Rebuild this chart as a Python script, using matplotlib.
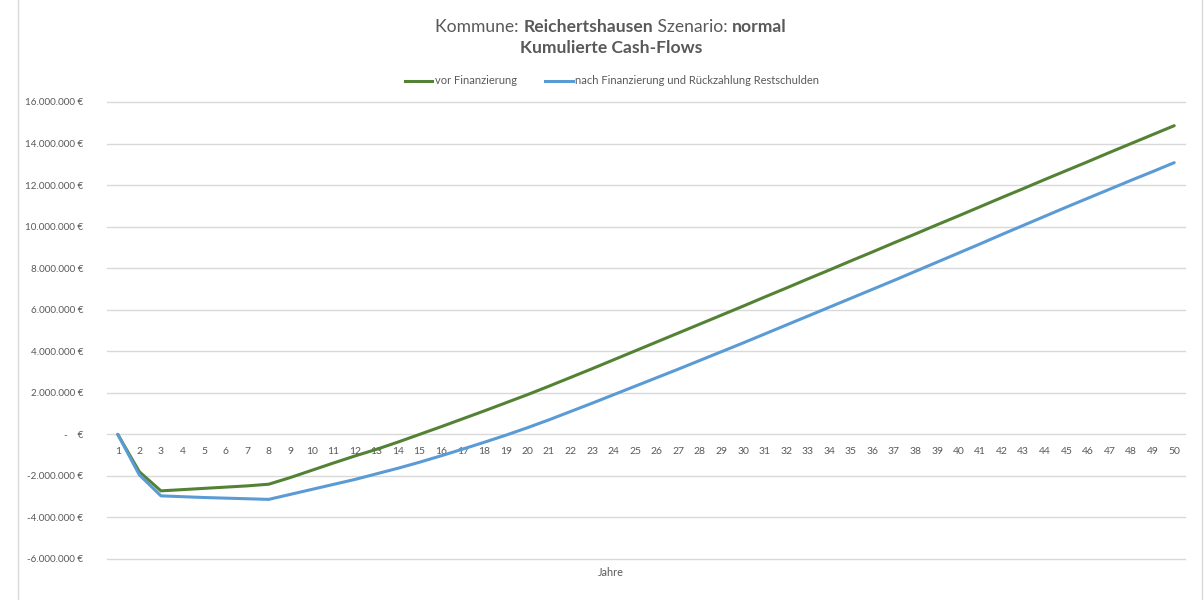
import matplotlib
matplotlib.use("Agg")
import matplotlib.pyplot as plt
from matplotlib.ticker import FuncFormatter
from matplotlib.lines import Line2D

# data (values in EUR)
jahre = list(range(1, 51))
vor_finanzierung = [
    0, -1.80e6, -2.72e6, -2.66e6, -2.60e6, -2.54e6, -2.48e6, -2.40e6, -2.08e6, -1.73e6,
    -1.38e6, -1.04e6, -0.72e6, -0.37e6, 0.00e6, 0.37e6, 0.75e6, 1.13e6, 1.52e6, 1.91e6,
    2.32e6, 2.74e6, 3.16e6, 3.59e6, 4.02e6, 4.45e6, 4.88e6, 5.31e6, 5.74e6, 6.17e6,
    6.61e6, 7.04e6, 7.48e6, 7.91e6, 8.35e6, 8.78e6, 9.22e6, 9.65e6, 10.09e6, 10.52e6,
    10.96e6, 11.40e6, 11.83e6, 12.27e6, 12.70e6, 13.13e6, 13.57e6, 14.00e6, 14.43e6, 14.86e6,
]
nach_finanzierung = [
    0, -1.95e6, -2.96e6, -3.00e6, -3.04e6, -3.07e6, -3.10e6, -3.13e6, -2.89e6, -2.65e6,
    -2.41e6, -2.17e6, -1.90e6, -1.63e6, -1.34e6, -1.03e6, -0.71e6, -0.38e6, -0.04e6, 0.32e6,
    0.70e6, 1.10e6, 1.50e6, 1.91e6, 2.32e6, 2.73e6, 3.14e6, 3.56e6, 3.98e6, 4.40e6,
    4.83e6, 5.26e6, 5.69e6, 6.12e6, 6.55e6, 6.98e6, 7.41e6, 7.85e6, 8.29e6, 8.73e6,
    9.17e6, 9.62e6, 10.06e6, 10.50e6, 10.94e6, 11.37e6, 11.80e6, 12.23e6, 12.65e6, 13.08e6,
]
y_ticks = [-6e6, -4e6, -2e6, 0, 2e6, 4e6, 6e6, 8e6, 10e6, 12e6, 14e6, 16e6]

plt.rcParams['font.family'] = ['Lato', 'DejaVu Sans']
grau = '#595959'
gruen = '#548235'
blau = '#5B9BD5'

W, H = 1204, 600
fig = plt.figure(figsize=(W / 100, H / 100), dpi=100)
ax = fig.add_axes([107 / W, 1 - 559 / H, 1078 / W, 457 / H])

ax.plot(jahre, vor_finanzierung, color=gruen, lw=2.2, solid_capstyle='round', zorder=3)
ax.plot(jahre, nach_finanzierung, color=blau, lw=2.2, solid_capstyle='round', zorder=3)

ax.set_xlim(0.5, 50.5)
ax.set_ylim(-6e6, 16e6)
ax.set_yticks(y_ticks)
ax.grid(axis='y', color='#d9d9d9', lw=1)
ax.set_axisbelow(True)
for gl in ax.yaxis.get_gridlines():
    gl.set_clip_on(False)


def euro(v, pos):
    if v == 0:
        return '-    €'
    return f'{v:,.0f} €'.replace(',', '.')


ax.yaxis.set_major_formatter(FuncFormatter(euro))
ax.tick_params(axis='y', length=0, pad=17, labelsize=7.1, labelcolor=grau)

# category labels sit next to the zero line
ax.set_xticks(jahre)
ax.spines['bottom'].set_position(('data', 0))
ax.tick_params(axis='x', length=0, pad=9, labelsize=7.5, labelcolor=grau)
for s in ax.spines.values():
    s.set_visible(False)

fig.text(611 / W, 1 - 573 / H, 'Jahre', ha='center', va='center', fontsize=7.8, color=grau)

# title with bold parts
teile = [('Kommune: ', 'normal'), ('Reichertshausen', 'bold'),
         (' Szenario: ', 'normal'), ('normal', 'bold')]
renderer = fig.canvas.get_renderer()
texte = []
breite = 0
for t, w in teile:
    tx = fig.text(0, 1 - 27 / H, t, fontsize=12.6, fontweight=w, color=grau, va='center')
    texte.append(tx)
    breite += tx.get_window_extent(renderer).width
x = 611 - breite / 2
for tx in texte:
    tx.set_x(x / W)
    x += tx.get_window_extent(renderer).width
fig.text(611 / W, 1 - 48 / H, 'Kumulierte Cash-Flows', fontsize=12.6, fontweight='bold',
         color=grau, ha='center', va='center')

handles = [Line2D([], [], color=gruen, lw=2.2), Line2D([], [], color=blau, lw=2.2)]
fig.legend(handles, ['vor Finanzierung', 'nach Finanzierung und Rückzahlung Restschulden'],
           loc='center', bbox_to_anchor=(612 / W, 1 - 81 / H), ncol=2, frameon=False,
           fontsize=8, labelcolor=grau, handlelength=2.5, handletextpad=0.2,
           columnspacing=2.6)

# chart area border
fig.add_artist(Line2D([18 / W, 18 / W], [0, 1], color='#d9d9d9', lw=1))
fig.add_artist(Line2D([1202 / W, 1202 / W], [0, 1], color='#d9d9d9', lw=1))

fig.savefig('out.png', dpi=100, facecolor='white')
